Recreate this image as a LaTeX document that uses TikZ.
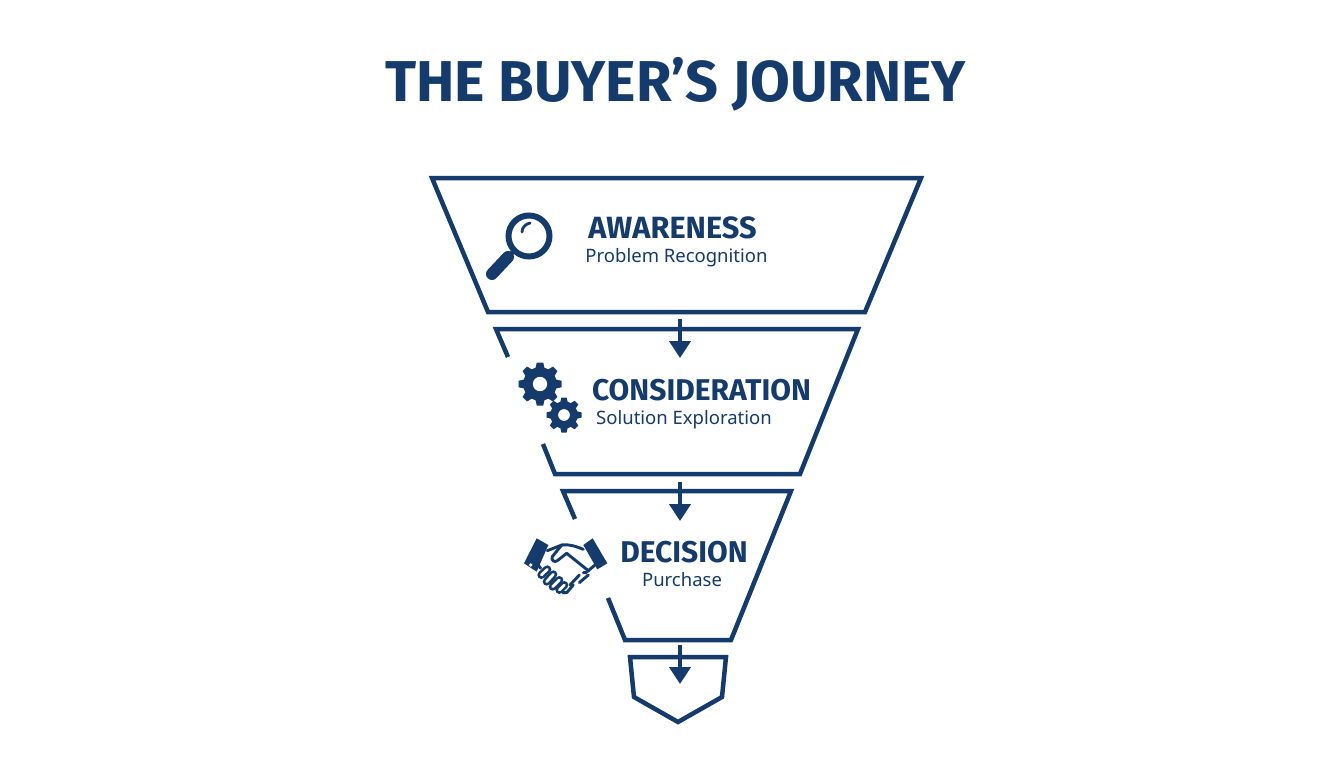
\documentclass[tikz,border=0pt]{standalone}
\usepackage{fontspec}
\setmainfont{Noto Sans}
\newfontfamily\headf{Fira Sans}
\usetikzlibrary{arrows.meta}
\definecolor{navy}{HTML}{143B6B}
\tikzset{
  funnel/.style={draw=navy,line width=4.5pt,miter limit=10,line join=miter},
  flowarrow/.style={draw=navy,line width=4.5pt,-{Triangle[width=21pt,length=17pt]},shorten >=0pt},
  headtext/.style={text=navy,font=\headf\bfseries\fontsize{30}{32}\selectfont,inner sep=0pt,anchor=base},
  subtext/.style={text=navy,font=\fontsize{18.5}{22}\selectfont,inner sep=0pt,anchor=base},
  handline/.style={draw=navy,line width=2.9pt,line cap=round,line join=round},
  capsule/.style={draw=navy,line width=8pt,line cap=round},
  capsulecore/.style={draw=white,line width=2.8pt,line cap=round},
}
\newcommand{\gearicon}[3]{%
  \fill[navy,even odd rule] (#1,#2) circle ({#3*0.78}) (#1,#2) circle ({#3*0.34});
  \foreach \a in {0,45,...,315}{
    \fill[navy,shift={(#1,#2)},rotate=\a] ({#3*0.7},{-#3*0.22}) -- ({#3},{-#3*0.15}) -- ({#3},{#3*0.15}) -- ({#3*0.7},{#3*0.22}) -- cycle;
  }
}
\newcommand{\fingercap}[4]{%
  \draw[capsule] (#1,#2) -- (#3,#4);
  \draw[capsulecore] (#1,#2) -- (#3,#4);
}
\begin{document}
\begin{tikzpicture}[x=1pt,y=-1pt]
\useasboundingbox (0,0) rectangle (1344,768);
\fill[white] (0,0) rectangle (1344,768);
\node[text=navy,font=\headf\bfseries\fontsize{57.6}{60}\selectfont,inner sep=0pt,anchor=base] (title) at (675.5,101) {THE BUYER’S JOURNEY};

% funnel stages
\coordinate (a1) at (432,178); \coordinate (a2) at (921,178);
\coordinate (a3) at (865,312); \coordinate (a4) at (488,312);
\draw[funnel] (a1) -- (a2) -- (a3) -- (a4) -- cycle;

\coordinate (b1) at (508,357); \coordinate (b2) at (496,329);
\coordinate (b3) at (858,329); \coordinate (b4) at (800,474);
\coordinate (b5) at (555,474); \coordinate (b6) at (543,444);
\draw[funnel] (b1) -- (b2) -- (b3) -- (b4) -- (b5) -- (b6);

\coordinate (c1) at (575,519); \coordinate (c2) at (563,491);
\coordinate (c3) at (791,491); \coordinate (c4) at (731,640);
\coordinate (c5) at (625,640); \coordinate (c6) at (608,598);
\draw[funnel] (c1) -- (c2) -- (c3) -- (c4) -- (c5) -- (c6);

\coordinate (d1) at (630,657); \coordinate (d2) at (726,657);
\coordinate (d3) at (722,697); \coordinate (d4) at (678,722);
\coordinate (d5) at (634,697);
\draw[funnel] (d1) -- (d2) -- (d3) -- (d4) -- (d5) -- cycle;

% arrows
\coordinate (s1) at (680,319); \coordinate (e1) at (680,358);
\coordinate (s2) at (680,482); \coordinate (e2) at (680,521);
\coordinate (s3) at (680,645); \coordinate (e3) at (680,684);
\draw[flowarrow] (s1) -- (e1);
\draw[flowarrow] (s2) -- (e2);
\draw[flowarrow] (s3) -- (e3);

% labels
\node[headtext,font=\headf\bfseries\fontsize{30.7}{32}\selectfont] (h1) at (672.5,238) {AWARENESS};
\node[subtext] (t1) at (676.5,262) {Problem Recognition};
\node[headtext] (h2) at (701.5,400) {CONSIDERATION};
\node[subtext] (t2) at (684,424) {Solution Exploration};
\node[headtext] (h3) at (684,562) {DECISION};
\node[subtext] (t3) at (682,586) {Purchase};

% magnifier
\draw[navy,line width=6pt] (529,236) circle (20.5);
\draw[navy,line width=2.8pt,line cap=round] (522,232) .. controls (522,227) and (526,224) .. (530,223);
\draw[navy,line width=4.5pt] (515,250) -- (506,259);
\draw[navy,line width=12pt,line cap=round] (508,257) -- (492,274);

% gears
\gearicon{540}{384}{21.5}
\gearicon{564}{415}{17.5}

% handshake
\begin{scope}[shift={(520,530)},scale=0.3333]
\fill[navy] (12,100) -- (50,25) -- (85,45) -- (50,125) -- cycle;
\fill[white] (32,105) circle (5.5);
\fill[navy] (190,45) -- (218,25) -- (262,100) -- (232,118) -- cycle;
\draw[handline] (82,62) -- (100,55) -- (125,45);
\draw[handline] (125,45) .. controls (150,42) and (170,50) .. (190,58);
\draw[handline] (125,45) -- (97,80) .. controls (92,92) and (104,98) .. (112,92) -- (140,70);
\draw[handline] (140,70) -- (205,122);
\draw[handline] (225,105) -- (205,122) .. controls (200,128) and (195,130) .. (190,128);
\draw[handline] (205,135) -- (178,158);
\draw[handline] (178,135) -- (150,165);
\draw[handline] (160,165) -- (140,188) -- (128,188);
\draw[handline] (50,100) -- (62,115);
\fingercap{64}{135}{82}{118}
\fingercap{80}{155}{100}{133}
\fingercap{98}{170}{118}{150}
\fingercap{118}{180}{133}{165}
\end{scope}
\end{tikzpicture}
\end{document}
